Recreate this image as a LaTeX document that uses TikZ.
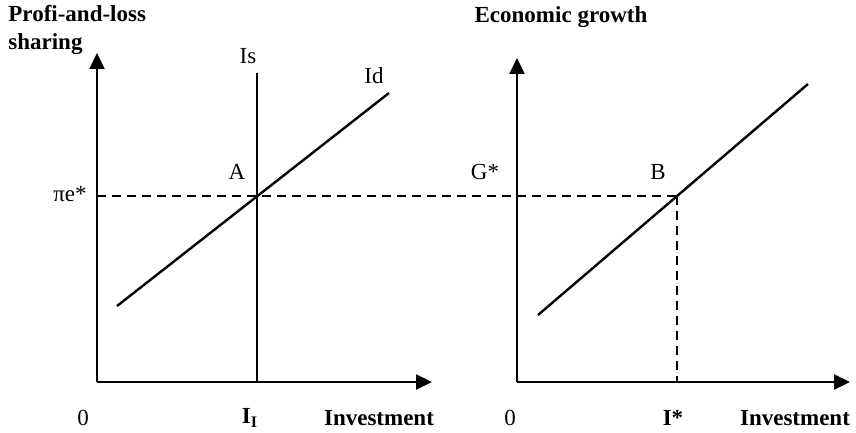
\documentclass[tikz,border=0pt]{standalone}
\usepackage{fontspec}
\setmainfont{Liberation Serif}
\usetikzlibrary{arrows.meta}

\begin{document}
\begin{tikzpicture}[x=0.5pt, y=-0.5pt,
    axis/.style={line width=1.1pt, -{Triangle[length=8pt, width=7.5pt]}},
    curve/.style={line width=1.2pt},
    guide/.style={line width=0.9pt, dash pattern=on 4.5pt off 3pt},
    lbl/.style={font=\fontsize{11.5}{14}\selectfont, inner sep=1pt},
    ttl/.style={font=\fontsize{11.5}{14}\selectfont\bfseries, inner sep=0pt, align=left}
]
\useasboundingbox (0,0) rectangle (856,433);

% Left panel: points
\coordinate (o1) at (97,382);
\coordinate (ytop1) at (97,53);
\coordinate (xend1) at (432,382);
\coordinate (isbot) at (257,382);
\coordinate (istop) at (257,73);
\coordinate (idlow) at (117,306);
\coordinate (idhigh) at (389,93);
\coordinate (pe) at (97,196);
\coordinate (A) at (257,196);

% Right panel: points
\coordinate (o2) at (517,382);
\coordinate (ytop2) at (517,58);
\coordinate (xend2) at (850,382);
\coordinate (glow) at (538,315);
\coordinate (ghigh) at (808,84);
\coordinate (B) at (677,196);
\coordinate (istar) at (677,382);

% Axes
\draw[axis] (o1) -- (ytop1);
\draw[axis] (o1) -- (xend1);
\draw[axis] (o2) -- (ytop2);
\draw[axis] (o2) -- (xend2);

% Curves
\draw[curve] (isbot) -- (istop);
\draw[curve] (idlow) -- (idhigh);
\draw[curve] (glow) -- (ghigh);

% Dashed guides
\draw[guide] (pe) -- (B);
\draw[guide] (B) -- (istar);

% Titles
\node[ttl, anchor=north west] (t1) at (8,5) {Profi-and-loss\\sharing};
\node[ttl] (t2) at (561,17) {Economic growth};

% Labels, left
\node[lbl] (lis) at (248,56) {Is};
\node[lbl] (lid) at (374,76) {Id};
\node[lbl] (la) at (237,172) {A};
\node[lbl] (lpe) at (70,194) {πe*};
\node[lbl] (l0a) at (83,418) {0};
\node[lbl, font=\fontsize{11.5}{14}\selectfont\bfseries] (lii) at (250,418) {I\textsubscript{I}};
\node[lbl, font=\fontsize{11.5}{14}\selectfont\bfseries] (linv1) at (379,418) {Investment};

% Labels, right
\node[lbl] (lg) at (485,172) {G*};
\node[lbl] (lb) at (658,172) {B};
\node[lbl] (l0b) at (510,418) {0};
\node[lbl, font=\fontsize{11.5}{14}\selectfont\bfseries] (listar) at (673,418) {I*};
\node[lbl, font=\fontsize{11.5}{14}\selectfont\bfseries] (linv2) at (795,418) {Investment};
\end{tikzpicture}
\end{document}
